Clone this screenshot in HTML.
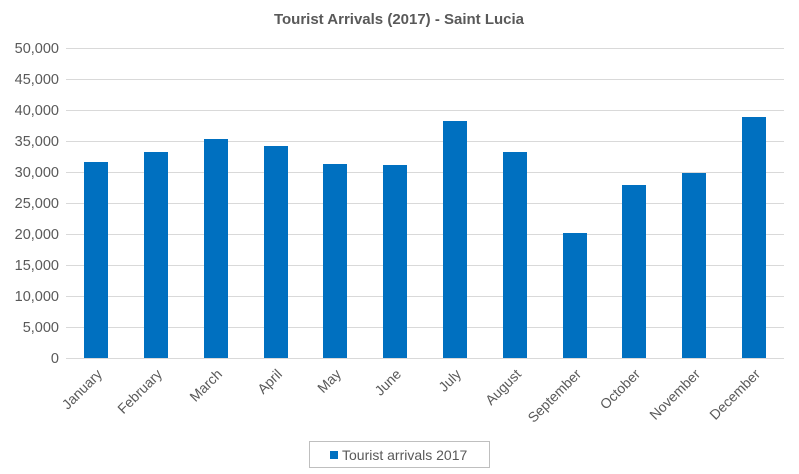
<!DOCTYPE html><html><head><style>body{margin:0;background:#fff}svg{display:block}text{font-family:"Liberation Sans",sans-serif}</style></head><body>
<svg width="799" height="474" viewBox="0 0 799 474">
<rect width="799" height="474" fill="#fff"/>
<text x="399" y="24" text-anchor="middle" font-size="15" font-weight="bold" fill="#595959">Tourist Arrivals (2017) - Saint Lucia</text>
<g stroke="#d9d9d9" stroke-width="1">
<line x1="66" x2="784" y1="48.5" y2="48.5"/><line x1="66" x2="784" y1="79.5" y2="79.5"/><line x1="66" x2="784" y1="110.5" y2="110.5"/><line x1="66" x2="784" y1="141.5" y2="141.5"/><line x1="66" x2="784" y1="172.5" y2="172.5"/><line x1="66" x2="784" y1="203.5" y2="203.5"/><line x1="66" x2="784" y1="234.5" y2="234.5"/><line x1="66" x2="784" y1="265.5" y2="265.5"/><line x1="66" x2="784" y1="296.5" y2="296.5"/><line x1="66" x2="784" y1="327.5" y2="327.5"/><line x1="66" x2="784" y1="358.5" y2="358.5"/>
</g>
<g font-size="14.5" fill="#595959" text-anchor="end">
<text x="59" y="53">50,000</text><text x="59" y="84">45,000</text><text x="59" y="115">40,000</text><text x="59" y="146">35,000</text><text x="59" y="177">30,000</text><text x="59" y="208">25,000</text><text x="59" y="239">20,000</text><text x="59" y="270">15,000</text><text x="59" y="301">10,000</text><text x="59" y="332">5,000</text><text x="59" y="363">0</text>
</g>
<g fill="#0070c0">
<rect x="84" y="162" width="24" height="196"/><rect x="144" y="152" width="24" height="206"/><rect x="204" y="139" width="24" height="219"/><rect x="264" y="146" width="24" height="212"/><rect x="323" y="164" width="24" height="194"/><rect x="383" y="165" width="24" height="193"/><rect x="443" y="121" width="24" height="237"/><rect x="503" y="152" width="24" height="206"/><rect x="563" y="233" width="24" height="125"/><rect x="622" y="185" width="24" height="173"/><rect x="682" y="173" width="24" height="185"/><rect x="742" y="117" width="24" height="241"/>
</g>
<g font-size="14" fill="#595959" text-anchor="end">
<text transform="translate(103,375) rotate(-45)">January</text>
<text transform="translate(163,375) rotate(-45)">February</text>
<text transform="translate(223,375) rotate(-45)">March</text>
<text transform="translate(283,375) rotate(-45)">April</text>
<text transform="translate(342,375) rotate(-45)">May</text>
<text transform="translate(402,375) rotate(-45)">June</text>
<text transform="translate(462,375) rotate(-45)">July</text>
<text transform="translate(522,375) rotate(-45)">August</text>
<text transform="translate(582,375) rotate(-45)">September</text>
<text transform="translate(641,375) rotate(-45)">October</text>
<text transform="translate(701,375) rotate(-45)">November</text>
<text transform="translate(761,375) rotate(-45)">December</text>
</g>
<rect x="309.5" y="441.5" width="180" height="26" fill="#fff" stroke="#bfbfbf"/>
<rect x="330" y="451" width="8" height="8" fill="#0070c0"/>
<text x="342" y="460" font-size="14" fill="#595959">Tourist arrivals 2017</text>
</svg></body></html>
